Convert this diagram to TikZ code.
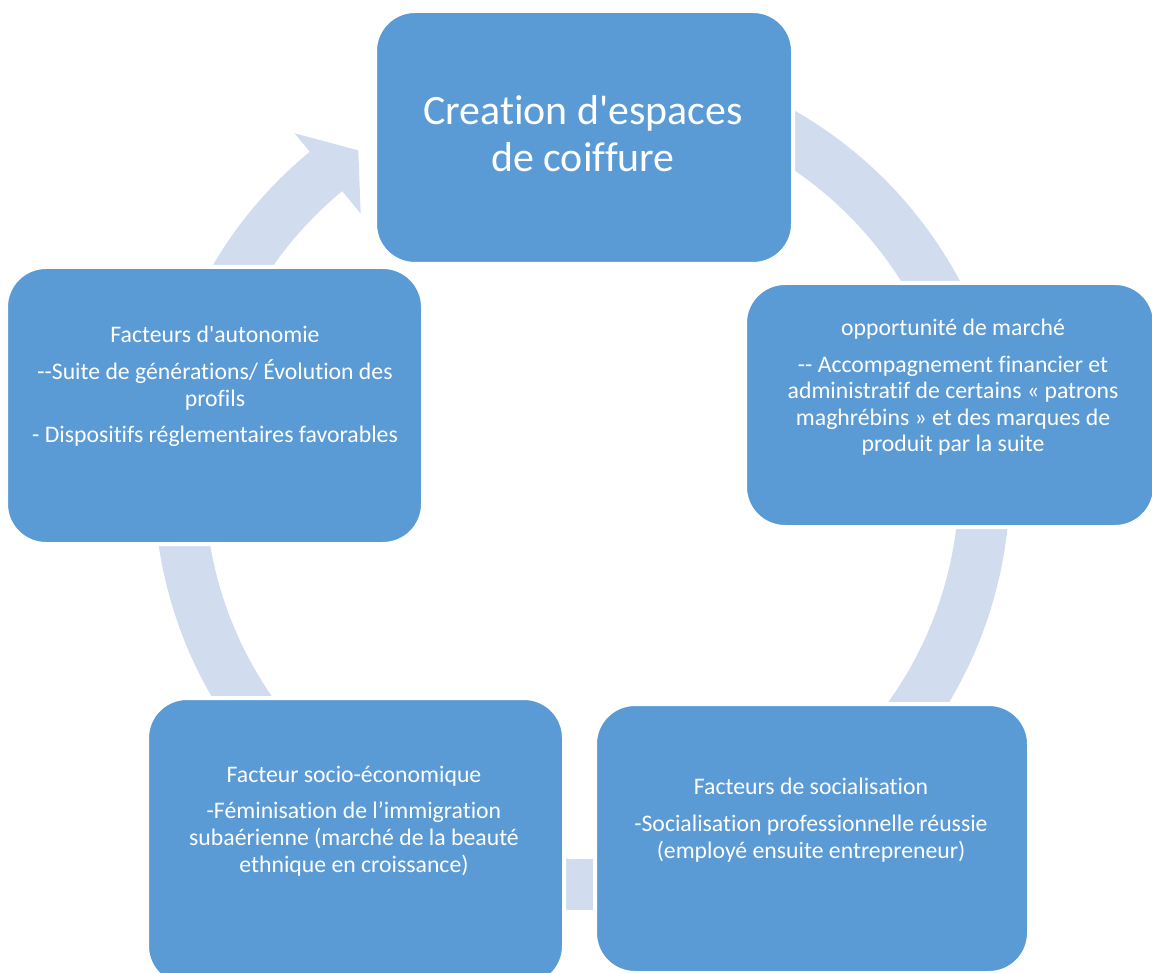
\documentclass[tikz,border=0pt]{standalone}
\usepackage{fontspec}
\setmainfont{Carlito}[Ligatures={TeXOff,CommonOff}]
\definecolor{boxblue}{RGB}{91,155,213}
\definecolor{ringblue}{RGB}{209,221,238}
\tikzset{
  stagebox/.style={draw=white,line width=3pt,fill=boxblue,rounded corners=30pt,inner sep=0pt},
  stagetext/.style={text=white,align=center,inner sep=0pt,anchor=base,
    font=\fontsize{17.8pt}{20pt}\selectfont},
}
\begin{document}
\begin{tikzpicture}[x=0.75pt,y=0.75pt]
    \clip (0,0) rectangle (1152,972);
    % ring, arrow head points into the top box
    \fill[ringblue,shift={(582,490)}] (129.5:428) arc[start angle=129.5,end angle=440,radius=428]
      -- (440:377) arc[start angle=440,end angle=129.5,radius=377]
      -- (129.5:348) -- (124:400) -- (129.5:452) -- cycle;
    \node[stagebox,minimum width=313.5pt,minimum height=189.75pt] (top) at (584,834.5) {};
    \node[stagebox,minimum width=307.5pt,minimum height=183pt] (market) at (950,567) {};
    \node[stagebox,minimum width=325.5pt,minimum height=201.75pt] (social) at (812,133.5) {};
    \node[stagebox,minimum width=312.75pt,minimum height=216pt] (socio) at (355.5,130) {};
    \node[stagebox,minimum width=312.75pt,minimum height=207.75pt] (autonomy) at (214.5,566.5) {};
    % text, placed on the baseline of its last line
    \node[stagetext,font=\fontsize{31.4pt}{35.25pt}\selectfont] (topTxt) at (583,800)
      {Creation d'espaces\\de coiffure};
    \node[stagetext] (marketTxt) at (953,520)
      {opportunité de marché\\[7.5pt]-- Accompagnement financier et\\administratif de certains « patrons\\maghrébins » et des marques de\\produit par la suite};
    \node[stagetext] (socialTxt) at (811,114)
      {Facteurs de socialisation\\[7.5pt]-Socialisation professionnelle réussie\\(employé ensuite entrepreneur)};
    \node[stagetext] (socioTxt) at (354,100)
      {Facteur socio-économique\\[7.5pt]-Féminisation de l’immigration\\subaérienne (marché de la beauté\\ethnique en croissance)};
    \node[stagetext] (autonomyTxt) at (215,529)
      {Facteurs d'autonomie\\[7.5pt]--Suite de générations/ Évolution des\\profils\\[7.5pt]- Dispositifs réglementaires favorables};
  \end{tikzpicture}
\end{document}
